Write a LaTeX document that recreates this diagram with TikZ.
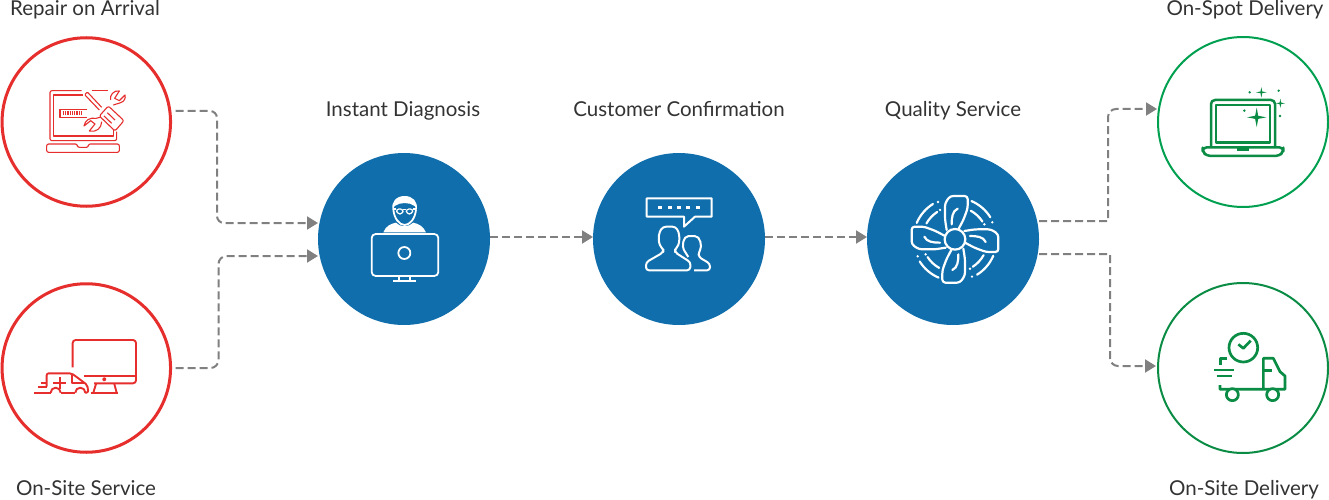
\documentclass[tikz,border=0pt]{standalone}
\usepackage{fontspec}
\setmainfont{Lato}
\usetikzlibrary{arrows.meta}
\definecolor{cred}{HTML}{E62E2D}
\definecolor{cblue}{HTML}{0F6EAB}
\definecolor{cgreen}{HTML}{00A050}
\definecolor{cgreenb}{HTML}{0B8C45}
\definecolor{cgray}{HTML}{808080}
\definecolor{ctext}{HTML}{333333}
\tikzset{
  redring/.style={circle,draw=cred,line width=3pt,fill=white,minimum size=168.5pt,inner sep=0pt,outer sep=0pt},
  bluedisc/.style={circle,fill=cblue,minimum size=172pt,inner sep=0pt,outer sep=0pt},
  greenring/.style={circle,draw=cgreen,line width=2pt,fill=white,minimum size=170pt,inner sep=0pt,outer sep=0pt},
  conn/.style={draw=cgray,line width=2pt,dash pattern=on 8pt off 4pt,-{Triangle[length=11pt,width=13pt]}},
  caption/.style={text=ctext,font=\fontsize{20.5pt}{22pt}\selectfont,inner sep=0pt,anchor=base},
  icon/.style={x=0.33333pt,y=-0.33333pt,line join=round},
}
\newcommand{\sparkle}[4][cgreenb]{\fill[#1] (#2,#3-#4) -- (#2+0.16*#4,#3-0.16*#4) -- (#2+#4,#3) -- (#2+0.16*#4,#3+0.16*#4) -- (#2,#3+#4) -- (#2-0.16*#4,#3+0.16*#4) -- (#2-#4,#3) -- (#2-0.16*#4,#3-0.16*#4) -- cycle;}
\begin{document}
\begin{tikzpicture}[x=1pt,y=-1pt]
\useasboundingbox (0,0) rectangle (1329,500);
% nodes
\node[redring] (rep) at (86.3,122) {};
\node[redring] (site) at (86.3,368) {};
\node[bluedisc] (diag) at (404,239) {};
\node[bluedisc] (conf) at (679,239) {};
\node[bluedisc] (qual) at (953,239) {};
\node[greenring] (spot) at (1243,122) {};
\node[greenring,draw=cgreenb] (deliv) at (1243,368) {};
% captions
\node[caption] (t1) at (85,15.5) {Repair on Arrival};
\node[caption] (t2) at (86,495) {On-Site Service};
\node[caption] (t3) at (403,117) {Instant Diagnosis};
\node[caption] (t4) at (679,117) {Customer Confirmation};
\node[caption] (t5) at (953,117) {Quality Service};
\node[caption] (t6) at (1245,15.5) {On-Spot Delivery};
\node[caption] (t7) at (1244,495) {On-Site Delivery};
% connectors
\draw[conn,shorten <=5pt] (rep.east |- 0,111) [rounded corners=7pt] -- (217,111) -- (217,223) [sharp corners] -- (diag.west |- 0,223);
\draw[conn,shorten <=5pt] (site.east) [rounded corners=8pt] -- (218.5,368) -- (218.5,256) [sharp corners] -- (diag.west |- 0,256);
\draw[conn] (diag.east |- 0,237) -- (conf.west |- 0,237);
\draw[conn] (conf.east |- 0,237) -- (qual.west |- 0,237);
\draw[conn,shorten >=1pt] (qual.east |- 0,221) -- (1108,221) [rounded corners=8pt] -- (1108,109) -- (spot.west |- 0,109);
\draw[conn,shorten >=2pt] (qual.east |- 0,254) -- (1110,254) [rounded corners=8pt] -- (1110,366) -- (deliv.west |- 0,366);
% icon: laptop and tools
\begin{scope}[icon,shift={(0pt,-30pt)},draw=cred,line width=1.1pt]
\draw[rounded corners=2pt] (245,182) -- (150,182) -- (150,332) -- (350,332) -- (350,305);
\draw (275,182) -- (325,182);
\draw (250,195) -- (160,195) -- (160,318) -- (340,318) -- (340,300);
\draw[rounded corners=2pt] (140,342) -- (232,342) -- (232,352) -- (265,352) -- (265,342) -- (358,342) -- (358,367) -- (140,367) -- cycle;
\draw (262,238) -- (180,238) -- (180,263) -- (262,263);
\draw[line width=4pt,dash pattern=on 1.3pt off 1pt] (188,250) -- (248,250);
% screwdriver
\draw[rounded corners=2pt] (325,228) -- (372,272) -- (345,303) -- (298,258) -- cycle;
\draw[rounded corners=1pt] (305,232) -- (262,186) -- (254,194) -- (298,240);
\draw (312,258) -- (335,280) (322,248) -- (345,270);
% wrench
\draw (340,225) -- (362,218) .. controls (372,215) and (378,205) .. (375,195) -- (358,212) -- (344,205) -- (358,183) .. controls (342,180) and (328,195) .. (332,210);
\draw (300,262) -- (288,265) .. controls (270,262) and (255,270) .. (252,288) -- (272,272) -- (285,282) -- (268,303) .. controls (288,308) and (305,295) .. (305,275);
\end{scope}
% icon: ambulance and monitor
\begin{scope}[icon,shift={(0pt,-280pt)},draw=cred,line width=1.9pt]
\draw[rounded corners=3pt] (218,262) -- (218,180) -- (408,180) -- (408,310) -- (282,310);
\draw (252,287) -- (408,287);
\draw (313,298) circle[radius=3.5];
\draw (288,312) -- (280,338) (343,312) -- (350,338);
\draw (272,340) -- (355,340);
\draw[rounded corners=2pt] (140,320) -- (140,280) -- (215,280) -- (262,315) -- (265,338) -- (255,338);
\draw (217,283) -- (217,310) -- (255,310);
\draw (103,338) -- (152,338) (182,338) -- (226,338);
\draw (122,308) -- (140,308) (115,322) -- (140,322);
\draw (160,310) -- (198,310) (180,292) -- (180,328);
\draw (152,338) arc[start angle=180,end angle=360,x radius=15,y radius=15];
\draw (226,338) arc[start angle=180,end angle=360,x radius=15,y radius=15];
\end{scope}
% icon: technician
\begin{scope}[icon,shift={(340pt,-170pt)},draw=white,line width=1.8pt]
\fill[white] (130,187) .. controls (138,168) and (150,162) .. (168,158) .. controls (178,172) and (208,172) .. (220,158) .. controls (238,162) and (250,170) .. (258,187) -- cycle;
\draw (160,118) .. controls (162,145) and (178,165) .. (194,165) .. controls (210,165) and (226,145) .. (228,118);
\fill[white] (158,120) .. controls (152,95) and (170,78) .. (194,78) .. controls (218,78) and (235,95) .. (230,120) -- (224,108) .. controls (208,96) and (180,96) .. (164,108) -- cycle;
\draw[rounded corners=3pt,line width=1.2pt] (168,117) -- (190,117) -- (188,132) -- (172,132) -- cycle (198,117) -- (220,117) -- (216,132) -- (200,132) -- cycle;
\draw[line width=1.2pt] (190,119) -- (198,119) (160,117) -- (168,117) (220,117) -- (228,117);
\draw[rounded corners=4pt] (95,192) -- (295,192) -- (295,318) -- (95,318) -- cycle;
\draw (193,249) circle[radius=18];
\draw (178,318) -- (178,330) (210,318) -- (210,330);
\draw (160,332) -- (228,332);
\end{scope}
% icon: customers
\begin{scope}[icon,shift={(620pt,-175pt)},draw=white,line width=2pt]
\draw (80,70) -- (275,70) -- (275,125) -- (225,125) -- (192,155) -- (192,125) -- (80,125) -- cycle;
\foreach \dx in {120,150,178,205,235} \fill[white] (\dx-6,93) rectangle (\dx+6,103);
\draw[rounded corners=3pt] (210,286) -- (78,286) -- (78,262) -- (130,232) -- (130,222) .. controls (112,205) and (112,155) .. (148,155) .. controls (182,155) and (182,205) .. (165,222) -- (165,232) -- (212,262) -- cycle;
\draw[rounded corners=3pt] (222,286) -- (270,286) -- (270,266) -- (236,246) -- (236,232) .. controls (246,215) and (242,183) .. (215,183) .. controls (188,183) and (186,215) .. (196,232) -- (205,246);
\end{scope}
% icon: fan
\begin{scope}[icon,shift={(895pt,-180pt)},draw=white,line width=2.2pt]
\begin{scope}[shift={(180,178)},line cap=round]
\foreach \a in {0,90,180,270}{
 \begin{scope}[rotate=\a]
 \draw[rounded corners=3pt] (-25,-28) -- (-30,-60) -- (-30,-108) -- (-15,-130) -- (38,-130) -- (38,-93) -- (25,-58) -- (10,-30);
 \draw (8,-92) .. controls (-8,-85) and (-10,-65) .. (-10,-45);
 \draw (-66.7:125) arc[start angle=-66.7,end angle=-32,radius=125];
 \draw (-61:98) arc[start angle=-61,end angle=-33,radius=98];
 \fill[white] (-24.5:123) circle[radius=4];
 \fill[white] (-27:99) circle[radius=4];
 \end{scope}
}
\draw[fill=cblue] (0,0) circle[radius=31];
\end{scope}
\end{scope}
% icon: laptop with sparkles
\begin{scope}[icon,shift={(1180pt,-70pt)},draw=cgreenb,line width=2.5pt]
\draw[rounded corners=4pt] (93,232) -- (93,90) -- (285,90) -- (285,232);
\draw (108,105) rectangle (270,218);
\draw[rounded corners=4pt] (68,232) -- (310,232) -- (310,245) -- (298,258) -- (80,258) -- (68,245) -- cycle;
\draw (170,238) -- (208,238);
\sparkle{230}{142}{29}
\sparkle{244}{67}{16}
\sparkle{301}{100}{14}
\foreach \p/\q in {209/67,296/62,300/138,193/122} \fill[cgreenb] (\p,\q) circle[radius=4];
\end{scope}
% icon: truck with clock
\begin{scope}[icon,shift={(1190pt,-320pt)},draw=cgreenb,line width=2.7pt]
\draw (160,83) circle[radius=43];
\draw (145,73) -- (160,85) -- (182,62);
\draw (112,115) -- (92,115) -- (92,135);
\draw (72,150) -- (132,150) (80,168) -- (125,168);
\draw (220,205) -- (220,115) -- (250,115) -- (270,155) -- (285,168) -- (285,208) -- (90,208) -- (90,195);
\draw (220,152) -- (245,152);
\draw[fill=white] (127,224) circle[radius=18];
\draw[fill=white] (248,224) circle[radius=18];
\end{scope}
\end{tikzpicture}
\end{document}
